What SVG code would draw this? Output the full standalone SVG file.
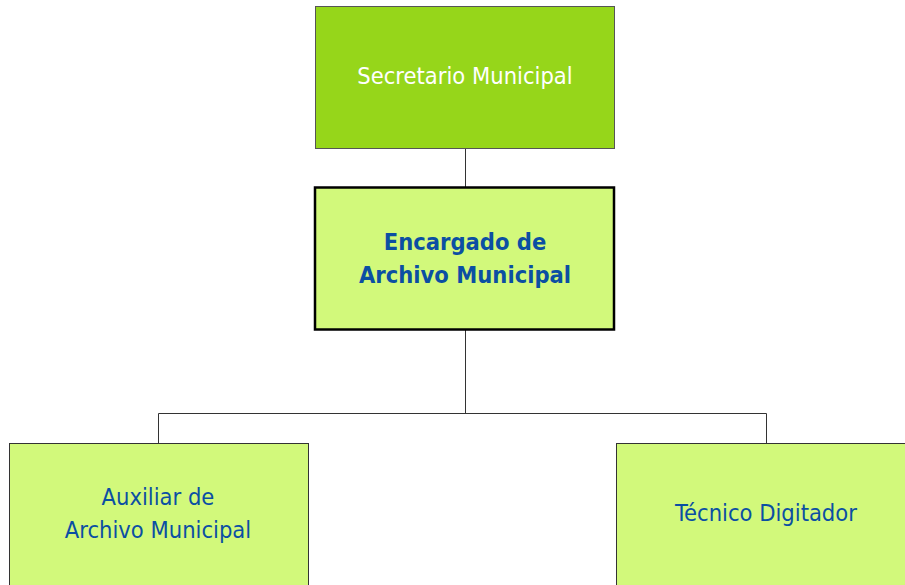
<svg xmlns="http://www.w3.org/2000/svg" width="905" height="585" viewBox="0 0 905 585">
<style>
.t{font-family:"DejaVu Sans Condensed","DejaVu Sans",sans-serif;font-size:23.5px;text-anchor:middle}
.b{fill:#0b4fa3}
.light{fill:#d2f97b;stroke:#333;stroke-width:1}
.conn{stroke:#333;stroke-width:1;fill:none}
</style>
<rect width="905" height="585" fill="#fff"/>
<g id="connectors">
<path class="conn" d="M465.5 148V187M465.5 329V413.5M158.5 443V413.5H766.5V443"/>
</g>
<g id="secretario">
<rect x="315.5" y="6.5" width="299" height="142" fill="#96d61a" stroke="#555" stroke-width="1"/>
<text class="t" x="465" y="84" fill="#fff">Secretario Municipal</text>
</g>
<g id="encargado">
<rect x="315" y="187.5" width="299" height="142" fill="#d2f97b" stroke="#000" stroke-width="2.5"/>
<text class="t b" x="465" y="250" font-weight="bold" font-size="24.5">Encargado de</text>
<text class="t b" x="465" y="283" font-weight="bold" font-size="24.5">Archivo Municipal</text>
</g>
<g id="auxiliar">
<rect class="light" x="9.5" y="443.5" width="299" height="150"/>
<text class="t b" x="158" y="505">Auxiliar de</text>
<text class="t b" x="158" y="538">Archivo Municipal</text>
</g>
<g id="tecnico">
<rect class="light" x="616.5" y="443.5" width="299" height="150"/>
<text class="t b" x="766" y="521">Técnico Digitador</text>
</g>
</svg>
